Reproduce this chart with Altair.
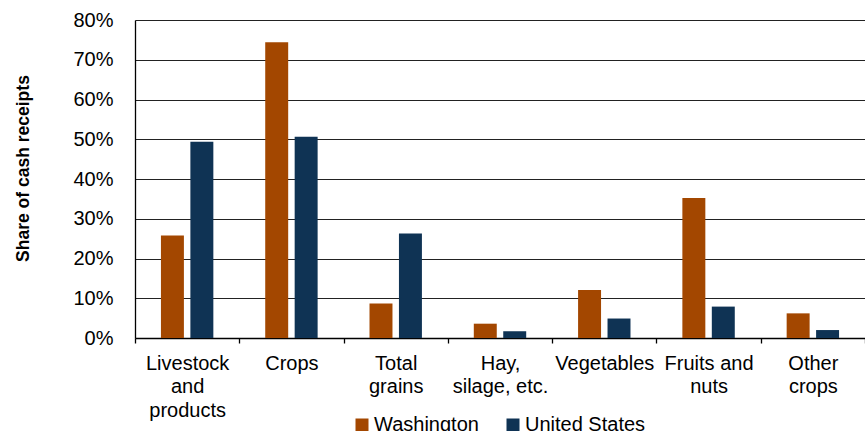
import altair as alt
import pandas as pd

categories = ["Livestock and products", "Crops", "Total grains", "Hay, silage, etc.",
              "Vegetables", "Fruits and nuts", "Other crops"]
label_lines = [["Livestock", "and", "products"], ["Crops"], ["Total", "grains"],
               ["Hay,", "silage, etc."], ["Vegetables"], ["Fruits and", "nuts"], ["Other", "crops"]]
washington = [25.8, 74.4, 8.7, 3.6, 12.1, 35.2, 6.2]
united_states = [49.4, 50.6, 26.3, 1.7, 4.9, 7.9, 2.0]
series = ["Washington", "United States"]
colors = ["#A34700", "#0F3354"]
y_ticks = [0, 10, 20, 30, 40, 50, 60, 70, 80]

rows = []
for i, c in enumerate(categories):
    rows.append({"cat": c, "series": "Washington", "value": washington[i] / 100})
    rows.append({"cat": c, "series": "United States", "value": united_states[i] / 100})
df = pd.DataFrame(rows)

label_expr = "{" + ", ".join(
    f"{c!r}: {l!r}".replace("'", '"') for c, l in zip(categories, label_lines)
) + "}[datum.value]"

FONT = "Liberation Sans"

chart = alt.Chart(df).mark_bar().encode(
    x=alt.X("cat:N", sort=categories, title=None,
            scale=alt.Scale(paddingInner=0, paddingOuter=0),
            axis=alt.Axis(labelAngle=0, labelExpr=label_expr, labelFont=FONT,
                          labelFontSize=20, labelColor="#000", labelLineHeight=23.5,
                          labelBaseline="top", labelPadding=10,
                          tickColor="#000", tickSize=5, tickWidth=1.3, tickBand="extent",
                          domainColor="#000", domainWidth=1.3, grid=False)),
    xOffset=alt.XOffset("series:N", sort=series,
                        scale=alt.Scale(paddingInner=0.22, paddingOuter=0.881)),
    y=alt.Y("value:Q", title="Share of cash receipts",
            scale=alt.Scale(domain=[0, 0.8], nice=False),
            axis=alt.Axis(format=".0%", values=[v / 100 for v in y_ticks],
                          labelFont=FONT, labelFontSize=20, labelColor="#000",
                          labelPadding=22, ticks=False,
                          domainColor="#000", domainWidth=1.3,
                          gridColor="#222", gridWidth=1.2,
                          titleFont=FONT, titleFontSize=17.5, titleFontWeight="bold",
                          titleColor="#000", titlePadding=0, titleX=-103, titleY=148)),
    color=alt.Color("series:N", sort=series,
                    scale=alt.Scale(domain=series, range=colors),
                    legend=alt.Legend(title=None, orient="none", direction="horizontal",
                                      legendX=217, legendY=395,
                                      symbolType="square", symbolSize=169,
                                      symbolStrokeWidth=0, labelFont=FONT,
                                      labelFontSize=20, labelColor="#000",
                                      labelOffset=2, columnPadding=24)),
).properties(
    width=730, height=318,
    autosize=alt.AutoSizeParams(type="none"),
    padding={"left": 135, "top": 20, "right": 0, "bottom": 93},
).configure_view(stroke=None)

chart.save("out.html", embed_options={"renderer": "svg", "actions": False})
